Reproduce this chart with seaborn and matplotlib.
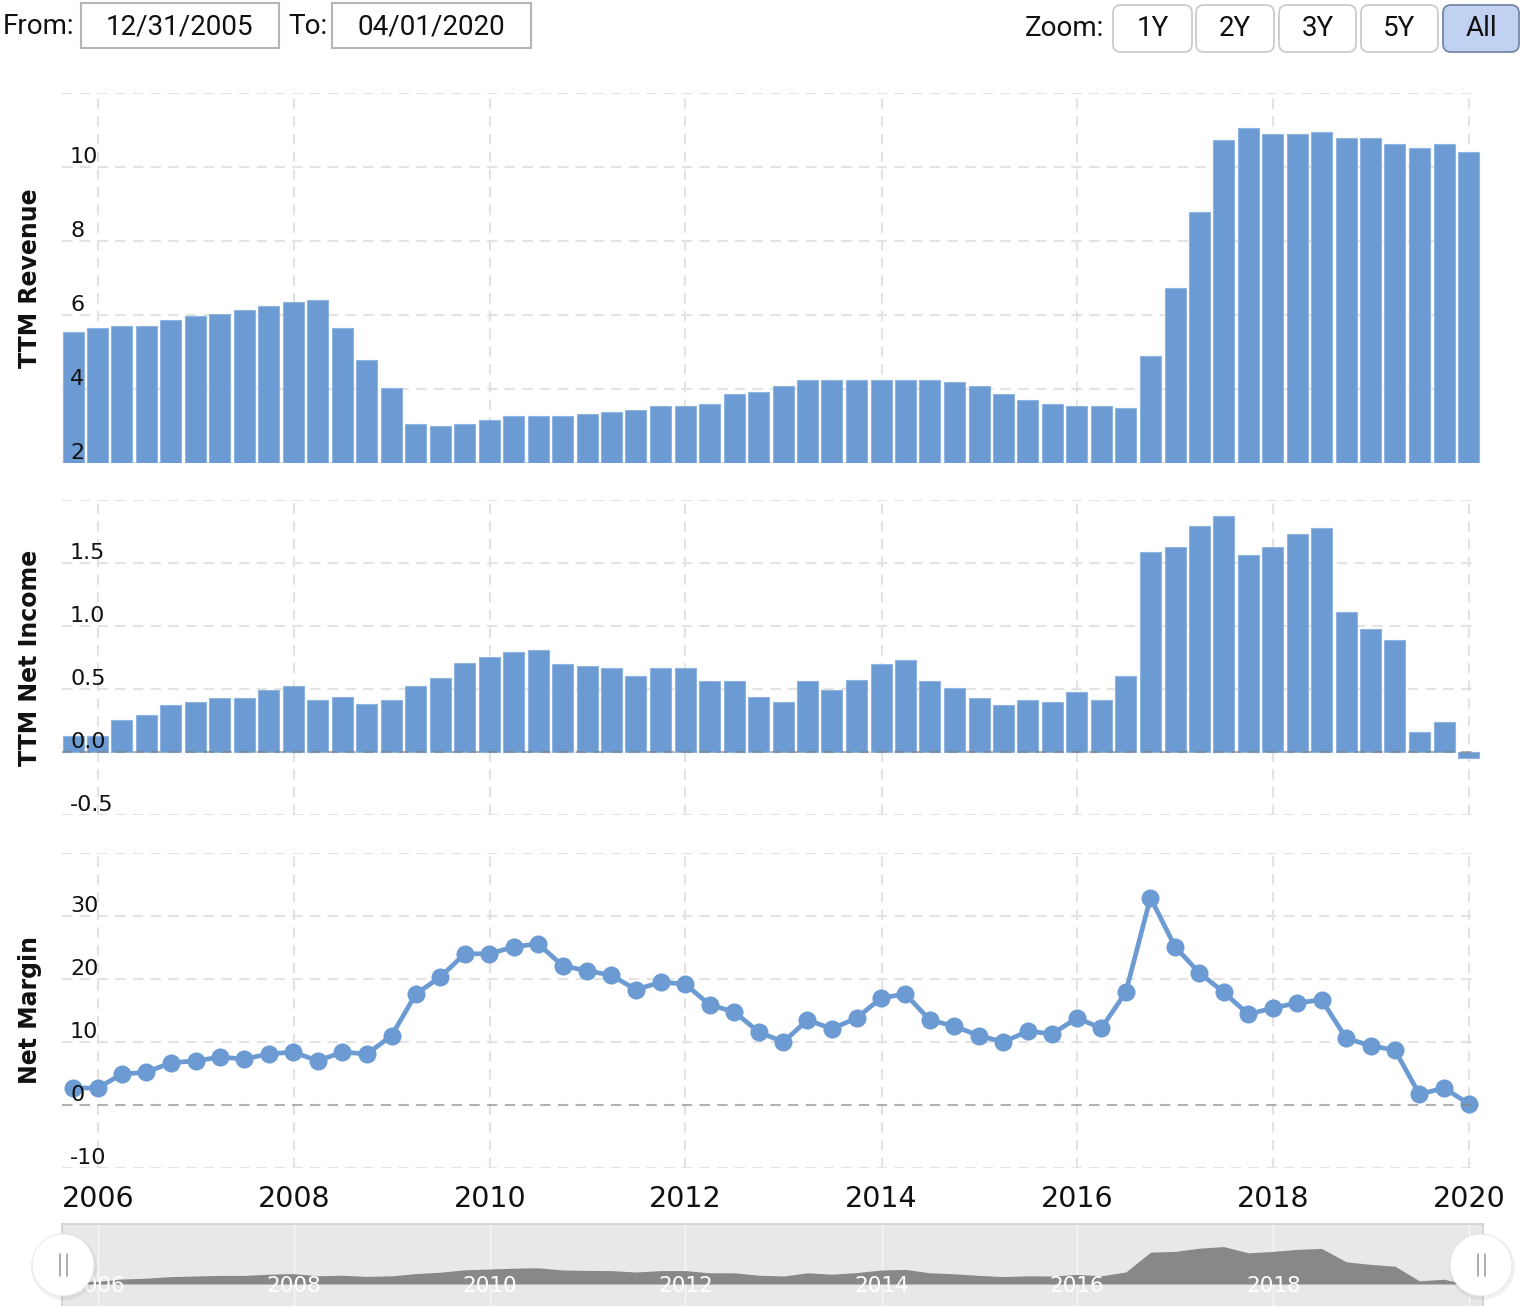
import numpy as np
import pandas as pd
import seaborn as sns
import matplotlib.pyplot as plt
import matplotlib.dates as mdates
from matplotlib.patches import FancyBboxPatch, Circle, Rectangle

# quarterly data, 2005 Q3 -> 2019 Q4
quarters = pd.date_range("2005-09-30", "2019-12-31", freq="QE")

revenue = [5.54, 5.65, 5.70, 5.70, 5.86, 5.97, 6.03, 6.14, 6.24, 6.35,
           6.41, 5.65, 4.78, 4.03, 3.05, 3.00, 3.05, 3.16, 3.27, 3.27,
           3.27, 3.32, 3.38, 3.43, 3.54, 3.54, 3.59, 3.86, 3.92, 4.08,
           4.24, 4.24, 4.24, 4.24, 4.24, 4.24, 4.19, 4.08, 3.86, 3.70,
           3.59, 3.54, 3.54, 3.49, 4.89, 6.73, 8.78, 10.73, 11.05, 10.89,
           10.89, 10.95, 10.78, 10.78, 10.62, 10.51, 10.62, 10.41]

net_income = [0.13, 0.13, 0.25, 0.29, 0.37, 0.40, 0.43, 0.43, 0.49, 0.52,
              0.41, 0.44, 0.38, 0.41, 0.52, 0.59, 0.71, 0.75, 0.79, 0.81,
              0.70, 0.68, 0.67, 0.60, 0.67, 0.67, 0.56, 0.56, 0.44, 0.40,
              0.56, 0.49, 0.57, 0.70, 0.73, 0.56, 0.51, 0.43, 0.37, 0.41,
              0.40, 0.48, 0.41, 0.60, 1.59, 1.63, 1.79, 1.87, 1.56, 1.63,
              1.73, 1.78, 1.11, 0.98, 0.89, 0.16, 0.24, -0.05]

net_margin = [2.7, 2.7, 4.9, 5.2, 6.7, 7.0, 7.6, 7.3, 8.1, 8.4,
              7.0, 8.4, 8.1, 11.0, 17.6, 20.3, 24.0, 24.0, 25.1, 25.6,
              22.1, 21.3, 20.6, 18.3, 19.5, 19.2, 15.9, 14.8, 11.6, 10.0,
              13.5, 12.1, 13.8, 17.0, 17.6, 13.5, 12.5, 11.0, 10.0, 11.7,
              11.3, 13.8, 12.2, 17.9, 32.9, 25.1, 21.0, 17.9, 14.4, 15.4,
              16.2, 16.7, 10.6, 9.4, 8.7, 1.7, 2.7, 0.2]

year_ticks = [2006, 2008, 2010, 2012, 2014, 2016, 2018, 2020]
rev_ticks = [2, 4, 6, 8, 10, 12]
ni_ticks = [-0.5, 0.0, 0.5, 1.0, 1.5, 2.0]
nm_ticks = [-10, 0, 10, 20, 30, 40]

from_date = "12/31/2005"
to_date = "04/01/2020"
zoom_buttons = ["1Y", "2Y", "3Y", "5Y", "All"]

df = pd.DataFrame({"date": mdates.date2num(quarters), "revenue": revenue,
                   "net_income": net_income, "net_margin": net_margin})

W, H = 1524, 1306
BLUE = "#6b9bd2"
EDGE = "#8fb4e0"
GRID = "#e3e3e3"

sns.set_style("white")
plt.rcParams["font.family"] = ["DejaVu Sans"]

fig = plt.figure(figsize=(W / 100, H / 100), dpi=100)


def box(x0, y0, x1, y1):
    return [x0 / W, 1 - y1 / H, (x1 - x0) / W, (y1 - y0) / H]


# pixel -> date mapping (2006 at x=98, 2020 at x=1469)
d06 = mdates.date2num(pd.Timestamp("2006-01-01"))
d20 = mdates.date2num(pd.Timestamp("2020-01-01"))
ppd = (1469 - 98) / (d20 - d06)


def px2d(p):
    return d06 + (p - 98) / ppd


year_nums = [mdates.date2num(pd.Timestamp(f"{y}-01-01")) for y in year_ticks]
grid_frac = (1472 - 62) / (1482 - 62)


def style_panel(ax, ticks, labels, ylim, zero=False):
    ax.set_xlim(px2d(62), px2d(1482))
    ax.set_ylim(*ylim)
    for s in ax.spines.values():
        s.set_visible(False)
    ax.set_xticks([])
    ax.set_yticks([])
    ax.set_xlabel("")
    ax.set_ylabel("")
    for t in ticks:
        if zero and t == 0:
            ax.axhline(t, xmax=grid_frac, color="#808080", alpha=0.6, lw=1.5,
                       ls=(0, (5, 3.5)), zorder=4)
        else:
            ax.axhline(t, xmax=grid_frac, color=GRID, lw=1.5, ls=(0, (5, 3.5)), zorder=0)
    for xv in year_nums:
        ax.axvline(xv, color=GRID, lw=1.5, ls=(0, (5, 3.5)), zorder=0)
    for v, lab in labels:
        ax.annotate(lab, xy=(0, v), xycoords=ax.get_yaxis_transform(),
                    xytext=(5.8, 2.9), textcoords="offset points",
                    ha="left", va="baseline", fontsize=16, color="#111111", zorder=6)


# --- TTM Revenue
ax1 = fig.add_axes(box(62, 93, 1482, 463))
sns.barplot(data=df, x="date", y="revenue", native_scale=True, orient="x",
            width=0.87, color=BLUE, saturation=1, edgecolor=EDGE, linewidth=0.8,
            errorbar=None, ax=ax1, zorder=2)
style_panel(ax1, rev_ticks, [(v, f"{v}") for v in rev_ticks[:-1]], (2, 12))

# --- TTM Net Income
ax2 = fig.add_axes(box(62, 500, 1482, 815))
sns.barplot(data=df, x="date", y="net_income", native_scale=True, orient="x",
            width=0.87, color=BLUE, saturation=1, edgecolor=EDGE, linewidth=0.8,
            errorbar=None, ax=ax2, zorder=2)
style_panel(ax2, ni_ticks, [(v, f"{v:.1f}") for v in ni_ticks[:-1]], (-0.5, 2.0), zero=True)

# --- Net Margin
ax3 = fig.add_axes(box(62, 853, 1482, 1168))
sns.lineplot(data=df, x="date", y="net_margin", color=BLUE, lw=3.4, marker="o",
             markersize=13, markeredgewidth=0, ax=ax3, zorder=3)
style_panel(ax3, nm_ticks, [(v, f"{v}") for v in nm_ticks[:-1]], (-10, 40), zero=True)
ax3.set_xticks(year_nums)
ax3.set_xticklabels([str(y) for y in year_ticks], fontsize=20.5, color="#111111")
ax3.tick_params(axis="x", length=0, pad=12)

for ax, lab in [(ax1, "TTM Revenue"), (ax2, "TTM Net Income"), (ax3, "Net Margin")]:
    pos = ax.get_position()
    fig.text(30 / W, pos.y0 + pos.height / 2, lab, rotation=90, ha="center",
             va="center", fontsize=17, fontweight="bold", color="#111111")

# --- navigator
axn = fig.add_axes(box(62, 1224, 1483, 1306))
axn.set_facecolor("#e8e8e8")
axn.fill_between(df["date"], df["net_income"], 0, color="#888888", lw=0, zorder=2)
axn.set_xlim(px2d(62), px2d(1483))
axn.set_ylim(-1.1, 3.0)
axn.set_xticks([])
axn.set_yticks([])
for k, s in axn.spines.items():
    s.set_visible(k != "bottom")
    s.set_color("#d0d0d0")
    s.set_linewidth(1.2)
for xv, y in zip(year_nums, year_ticks):
    axn.axvline(xv, color="white", lw=1, alpha=0.7, zorder=1)
    if y < 2020:
        axn.text(xv, -0.1, str(y), color="white", fontsize=15.5, ha="center",
                 va="center", zorder=3)

# --- overlay: controls and navigator handles
ov = fig.add_axes([0, 0, 1, 1], zorder=10)
ov.set_xlim(0, W)
ov.set_ylim(H, 0)
ov.axis("off")
ov.patch.set_alpha(0)

ui = dict(family=["Roboto", "DejaVu Sans"], fontsize=20, color="#111111", va="center")
ov.text(3, 27, "From:", ha="left", **ui)
ov.add_patch(Rectangle((81, 3), 198, 45, fc="white", ec="#b5b5b5", lw=1.5))
ov.text(180, 27, from_date, ha="center", **ui)
ov.text(288, 27, "To:", ha="left", **ui)
ov.add_patch(Rectangle((332, 3), 199, 45, fc="white", ec="#b5b5b5", lw=1.5))
ov.text(431, 27, to_date, ha="center", **ui)
ov.text(1104, 28, "Zoom:", ha="right", **ui)

btn_x = [(1113, 1192), (1196, 1274), (1279, 1356), (1361, 1438), (1443, 1519)]
for (x0, x1), lab in zip(btn_x, zoom_buttons):
    sel = lab == "All"
    ov.add_patch(FancyBboxPatch((x0, 5), x1 - x0, 47,
                                boxstyle="round,pad=0,rounding_size=8",
                                fc="#c0d1f1" if sel else "white",
                                ec="#7585ab" if sel else "#cccccc", lw=1.3))
    ov.text((x0 + x1) / 2, 28, lab, ha="center", **ui)

for cx in (63, 1481):
    ov.add_patch(Circle((cx + 1, 1267), 33, fc="black", alpha=0.06, lw=0))
    ov.add_patch(Circle((cx, 1265), 31, fc="white", ec="#e6e6e6", lw=0.6))
    for dx in (-3, 3.5):
        ov.plot([cx + dx, cx + dx], [1254, 1276], color="#a0a0a0", lw=1.2)

fig.savefig("out.png", dpi=100)
